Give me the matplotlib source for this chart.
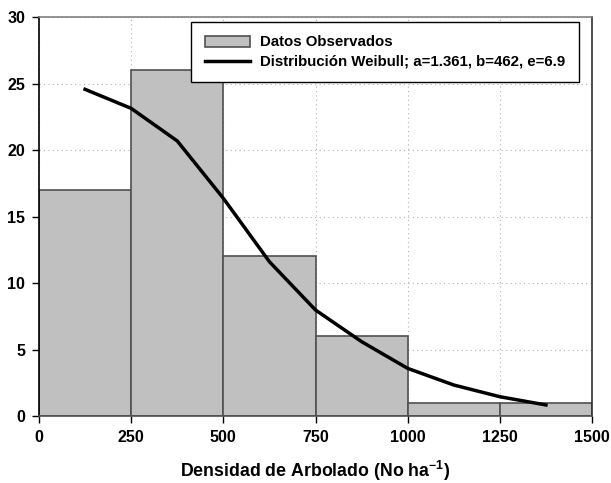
import matplotlib
matplotlib.use("Agg")
import matplotlib.pyplot as plt

plt.rcParams['font.family'] = ['Liberation Sans', 'DejaVu Sans']
plt.rcParams['font.weight'] = 'bold'
plt.rcParams['mathtext.fontset'] = 'custom'
plt.rcParams['mathtext.rm'] = 'Liberation Sans:bold'
plt.rcParams['mathtext.bf'] = 'Liberation Sans:bold'
plt.rcParams['mathtext.default'] = 'bf'

# datos del histograma
bin_edges = [0, 250, 500, 750, 1000, 1250]
bin_width = 250
observed = [17, 26, 12, 6, 1, 1]

# curva Weibull
curve_x = [125, 250, 375, 500, 625, 750, 875, 1000, 1125, 1250, 1375]
curve_y = [24.56, 23.13, 20.68, 16.37, 11.6, 7.97, 5.59, 3.58, 2.33, 1.45, 0.83]

x_ticks = [0, 250, 500, 750, 1000, 1250, 1500]
y_ticks = [0, 5, 10, 15, 20, 25, 30]

fig = plt.figure(figsize=(6.11, 4.83), dpi=100)
ax = fig.add_axes([39 / 611, 1 - 416 / 483, 553 / 611, 399 / 483])

bars = ax.bar(bin_edges, observed, width=bin_width, align='edge', color='#c0c0c0',
              edgecolor='#505050', linewidth=1.2, zorder=2)
line, = ax.plot(curve_x, curve_y, color='black', linewidth=2.5, zorder=3)

ax.set_xlim(0, 1500)
ax.set_ylim(0, 30)
ax.set_xticks(x_ticks)
ax.set_yticks(y_ticks)
ax.tick_params(labelsize=11.5, direction='out', length=5, width=1, pad=5)
ax.grid(True, linestyle=(0, (1, 3)), color='#b0b0b0', linewidth=0.8, zorder=0)
ax.set_axisbelow(True)

ax.spines['left'].set_color('black')
ax.spines['bottom'].set_color('#505050')
ax.spines['top'].set_color('#808080')
ax.spines['right'].set_color('#303030')
for s in ax.spines.values():
    s.set_linewidth(1.2)

ax.set_xlabel('Densidad de Arbolado (No ha$^{-1}$)', fontsize=12.8,
              fontweight='bold', labelpad=10)

leg = ax.legend([bars, line],
                ['Datos Observados', 'Distribución Weibull; a=1.361, b=462, e=6.9'],
                loc='upper left', bbox_to_anchor=(152 / 553, 1 - 5 / 399),
                fontsize=10.8, frameon=True, fancybox=False, edgecolor='black',
                framealpha=1, borderpad=0.9, handlelength=3.0, handletextpad=0.7,
                labelspacing=0.35, borderaxespad=0)
leg.get_frame().set_linewidth(1.0)
for t in leg.get_texts():
    t.set_fontweight('bold')

fig.savefig('out.png', dpi=100)
